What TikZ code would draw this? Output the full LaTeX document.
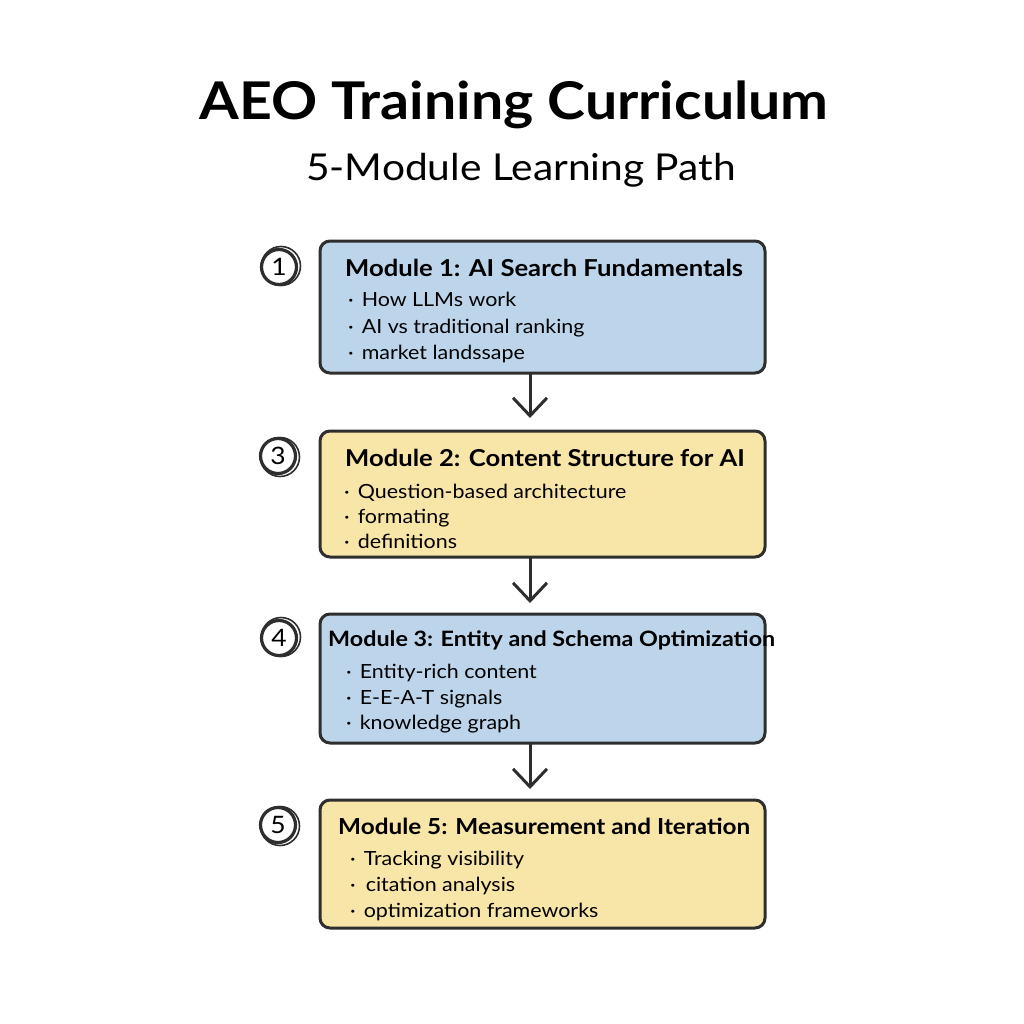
\documentclass[tikz,border=0pt]{standalone}
\usepackage{fontspec}
\setmainfont{Lato}[FakeStretch=1.1]
\usetikzlibrary{arrows.meta}

\definecolor{boxblue}{HTML}{BDD5EA}
\definecolor{boxyellow}{HTML}{F8E5A8}
\definecolor{ink}{HTML}{2E2E2E}

\tikzset{
  modbox/.style={draw=ink, line width=3pt, rounded corners=10pt},
  numring/.style={circle, draw=ink, line width=3.2pt, minimum size=35pt, inner sep=0pt,
                  font=\fontsize{24}{24}\selectfont},
  ringedge/.style={draw=ink, line width=1.6pt},
  head/.style={anchor=base west, inner sep=0pt, font=\bfseries\fontsize{#1}{#1}\selectfont},
  head/.default=23.3,
  item/.style={anchor=base west, inner sep=0pt, font=\fontsize{19.5}{19.5}\selectfont},
  flow/.style={draw=ink, line width=3pt, -{Straight Barb[length=18pt,width=34pt,line width=3pt]}}
}

\begin{document}
\begin{tikzpicture}[x=1pt, y=-1pt]
\useasboundingbox (0,0) rectangle (1024,1024);

% title
\node[font=\bfseries\fontsize{52}{52}\selectfont, anchor=base] (title) at (514,120) {AEO Training Curriculum};
\node[font=\fontsize{37}{37}\selectfont, anchor=base] (subtitle) at (521,181) {5-Module Learning Path};

% boxes
\draw[modbox, fill=boxblue]   (320,241) rectangle (765,373) node[pos=.5] (m1) {};
\draw[modbox, fill=boxyellow] (320,431) rectangle (765,557) node[pos=.5] (m2) {};
\draw[modbox, fill=boxblue]   (320,614) rectangle (765,743) node[pos=.5] (m3) {};
\draw[modbox, fill=boxyellow] (320,800) rectangle (765,928) node[pos=.5] (m4) {};

% numbers
\node[numring] (n1) at (279,267) {1};
\node[numring] (n2) at (278,456) {3};
\node[numring] (n3) at (279,638) {4};
\node[numring] (n4) at (278,825) {5};
\draw[ringedge] (281,266) circle (19.5pt);
\draw[ringedge] (280,457) circle (19.5pt);
\draw[ringedge] (281,637) circle (19.5pt);
\draw[ringedge] (280,826) circle (19.5pt);

% module 1
\node[head] (h1) at (345,276) {Module 1: AI Search Fundamentals};
\node[item] (i11) at (348,306) {·\hspace{8pt}How LLMs work};
\node[item] (i12) at (348,333) {·\hspace{8pt}AI vs traditional ranking};
\node[item] (i13) at (348,359) {·\hspace{8pt}market landssape};

% module 2
\node[head] (h2) at (345,466) {Module 2: Content Structure for AI};
\node[item] (i21) at (344,498) {·\hspace{8pt}Question-based architecture};
\node[item] (i22) at (344,523) {·\hspace{8pt}formating};
\node[item] (i23) at (344,548) {·\hspace{8pt}definitions};

% module 3
\node[head=21.2] (h3) at (328,646) {Module 3: Entity and Schema Optimization};
\node[item] (i31) at (346,678) {·\hspace{8pt}Entity-rich content};
\node[item] (i32) at (346,704) {·\hspace{8pt}E-E-A-T signals};
\node[item] (i33) at (346,729) {·\hspace{8pt}knowledge graph};

% module 4
\node[head=22.1] (h4) at (338,834) {Module 5: Measurement and Iteration};
\node[item] (i41) at (350,865) {·\hspace{8pt}Tracking visibility};
\node[item] (i42) at (350,891) {·\hspace{10pt}citation analysis};
\node[item] (i43) at (350,917) {·\hspace{8pt}optimization frameworks};

% arrows
\coordinate (a1) at (530,418);
\coordinate (a2) at (530,603);
\coordinate (a3) at (530,789);
\draw[flow] (530,373) -- (a1);
\draw[flow] (530,557) -- (a2);
\draw[flow] (530,743) -- (a3);
\end{tikzpicture}
\end{document}
